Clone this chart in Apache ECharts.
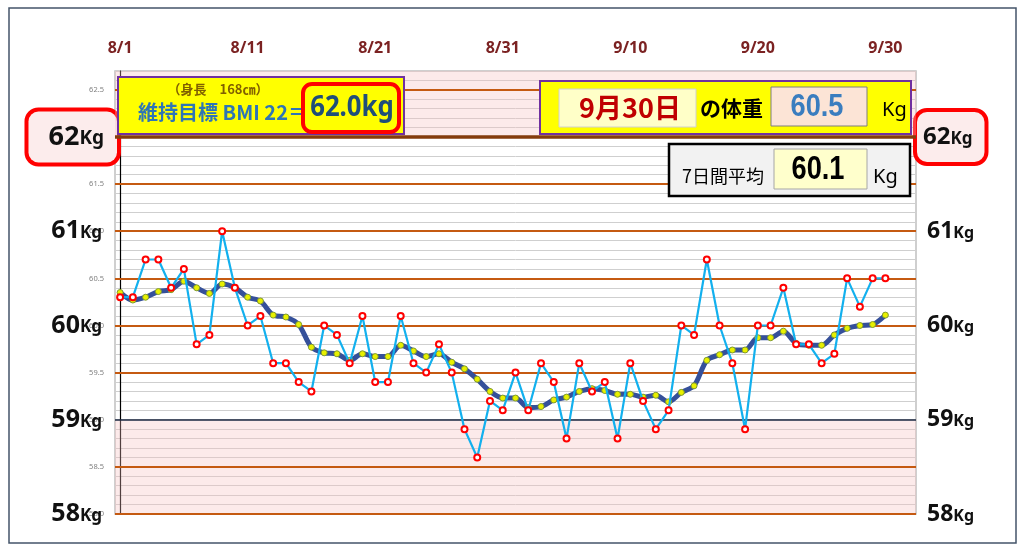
<!DOCTYPE html>
<html>
<head>
<meta charset="UTF-8">
<title>体重グラフ 8/1-9/30</title>
<script src="https://cdn.jsdelivr.net/npm/echarts@6/dist/echarts.min.js"></script>
<style>
  html, body { margin: 0; padding: 0; background: #fff; }
  #main { width: 1024px; height: 550px; }
</style>
</head>
<body>
<div id="main"></div>
<script>
// 毎日の体重 (8/1 - 9/30)
var weights = [
  60.3, 60.3, 60.7, 60.7, 60.4, 60.6, 59.8, 59.9, 61.0, 60.4,
  60.0, 60.1, 59.6, 59.6, 59.4, 59.3, 60.0, 59.9, 59.6, 60.1,
  59.4, 59.4, 60.1, 59.6, 59.5, 59.8, 59.5, 58.9, 58.6, 59.2,
  59.1, 59.5, 59.1, 59.6, 59.4, 58.8, 59.6, 59.3, 59.4, 58.8,
  59.6, 59.2, 58.9, 59.1, 60.0, 59.9, 60.7, 60.0, 59.6, 58.9,
  60.0, 60.0, 60.4, 59.8, 59.8, 59.6, 59.7, 60.5, 60.2, 60.5,
  60.5
];
// 7日間平均
var avg7 = [
  60.35, 60.27, 60.30, 60.36, 60.38, 60.47, 60.40, 60.34, 60.44, 60.40,
  60.30, 60.26, 60.11, 60.09, 60.01, 59.77, 59.71, 59.70, 59.63, 59.70,
  59.67, 59.67, 59.79, 59.73, 59.67, 59.70, 59.61, 59.54, 59.43, 59.30,
  59.23, 59.23, 59.13, 59.14, 59.21, 59.24, 59.30, 59.33, 59.31, 59.27,
  59.27, 59.24, 59.26, 59.19, 59.29, 59.36, 59.63, 59.69, 59.74, 59.74,
  59.87, 59.87, 59.94, 59.81, 59.79, 59.79, 59.90, 59.97, 60.00, 60.01,
  60.11
];
// 日付ラベル
var dates = [];
for (var i = 0; i < 61; i++) dates.push(i < 31 ? '8/' + (i + 1) : '9/' + (i - 30));
var xTicks = [0, 10, 20, 30, 40, 50, 60];   // 8/1, 8/11 ... 9/30
var kgTicks = [58, 59, 60, 61];
var goalTick = [62];
var yMin = 58, yMax = 62.7;
var goalKg = 62, lowKg = 59;

var lastIdx = weights.length - 1;
var latestW = weights[lastIdx].toFixed(1);
var latestAvg = avg7[lastIdx].toFixed(1);
var lastDay = '9月30日';

var dailyData = weights.map(function (v, i) { return [i, v]; });
var avgData = avg7.map(function (v, i) { return [i, v]; });

// オレンジの線 (0.5刻み、59と62は別の線)
var halfLines = [];
for (var k = 0; k * 0.5 + yMin <= yMax; k++) {
  var hv = yMin + k * 0.5;
  if (hv !== goalKg && hv !== lowKg) halfLines.push(hv);
}

var chart = echarts.init(document.getElementById('main'));

function kgRichOf(nSize, kSize) {
  return {
    n: { fontSize: nSize, fontWeight: 'bold', fontFamily: 'Noto Sans', color: '#111' },
    k: { fontSize: kSize, fontWeight: 'bold', fontFamily: 'Noto Sans', color: '#111', padding: [4, 0, 0, 0] }
  };
}
function kgFmt(v) { return '{n|' + v + '}{k|Kg}'; }

function bigAxis(pos, ticks, rich, margin, extra) {
  var lab = { customValues: ticks, margin: margin, formatter: kgFmt, rich: rich };
  for (var key in extra) lab[key] = extra[key];
  return {
    type: 'value', min: yMin, max: yMax, position: pos,
    axisLine: { show: false }, axisTick: { show: false }, splitLine: { show: false },
    axisLabel: lab
  };
}
var boxStyle = {
  backgroundColor: '#fcecec', borderColor: '#ff0000', borderWidth: 4, borderRadius: 10
};

var option = {
  animation: false,
  backgroundColor: '#fff',
  grid: { left: 115, right: 108, top: 71, bottom: 36, show: true,
          backgroundColor: '#fff', borderColor: '#c0c0c0', borderWidth: 1.5 },
  xAxis: {
    type: 'value', min: -0.4, max: 62.4, position: 'top',
    axisLine: { show: false }, axisTick: { show: false }, splitLine: { show: false },
    axisLabel: {
      customValues: xTicks,
      formatter: function (v) { return dates[v]; },
      color: '#7b2222', fontWeight: 'bold', fontSize: 16, fontFamily: 'Noto Sans', margin: 15
    }
  },
  yAxis: [
    {
      type: 'value', min: yMin, max: yMax, interval: 0.1, position: 'left',
      axisLine: { show: true, lineStyle: { color: '#000', width: 1.2 } },
      axisTick: { show: false },
      splitLine: { lineStyle: { color: '#cfcfcf', width: 1 } },
      axisLabel: {
        fontSize: 7.5, color: '#808080', margin: 11, fontFamily: 'Noto Sans',
        formatter: function (v) {
          return Math.abs(v * 2 - Math.round(v * 2)) < 1e-6 ? v.toFixed(1) : '';
        }
      }
    },
    bigAxis('left', kgTicks, kgRichOf(25, 17), 13, {}),
    bigAxis('left', goalTick, kgRichOf(27, 19), -2, Object.assign({ padding: [12, 13, 12, 20] }, boxStyle)),
    bigAxis('right', kgTicks, kgRichOf(23, 16), 11, {}),
    bigAxis('right', goalTick, kgRichOf(24, 17), 1, Object.assign({ padding: [13, 12, 13, 6] }, boxStyle))
  ],
  series: [
    {
      // 背景の帯
      type: 'line', data: avgData, z: 1, silent: true, symbol: 'none',
      lineStyle: { opacity: 0 },
      markArea: {
        silent: true, z: 1,
        itemStyle: { color: 'rgba(247,190,190,0.33)' },
        data: [
          [{ yAxis: goalKg }, { yAxis: yMax }],
          [{ yAxis: yMin }, { yAxis: lowKg }]
        ]
      }
    },
    {
      // 目盛り線
      type: 'line', data: avgData, z: 2, silent: true, symbol: 'none',
      lineStyle: { opacity: 0 },
      markLine: {
        silent: true, z: 2, symbol: ['none', 'none'], label: { show: false },
        data: halfLines.map(function (v) {
          return { yAxis: v, lineStyle: { color: '#c55a11', width: 1.8, type: 'solid' } };
        }).concat([
          { yAxis: lowKg, lineStyle: { color: '#1a2740', width: 1.6, type: 'solid' } },
          { yAxis: goalKg, lineStyle: { color: '#843c0c', width: 3.5, type: 'solid' } }
        ])
      }
    },
    {
      name: '7日間平均', type: 'line', data: avgData, z: 3, smooth: 0.3,
      symbol: 'circle', symbolSize: 6,
      lineStyle: { color: '#35509a', width: 5 },
      itemStyle: { color: '#e8f000', borderColor: '#7f9a30', borderWidth: 1 }
    },
    {
      name: '体重', type: 'line', data: dailyData, z: 4,
      symbol: 'emptyCircle', symbolSize: 6,
      lineStyle: { color: '#12b0ee', width: 2.2 },
      itemStyle: { color: '#ff0000', borderWidth: 1.5 }
    }
  ],
  graphic: [
    { type: 'rect', z: 100, shape: { x: 9, y: 8, width: 1007, height: 535 },
      style: { fill: 'none', stroke: '#44546a', lineWidth: 1.5 } },

    // 目標体重
    { type: 'rect', z: 100, shape: { x: 118, y: 77, width: 286, height: 57 },
      style: { fill: '#ffff00', stroke: '#7030a0', lineWidth: 2 } },
    { type: 'text', z: 101, style: { x: 218, y: 89, text: '（身長　168㎝）',
      font: 'bold 13px "Noto Sans CJK JP"', fill: '#806000', textAlign: 'center', textVerticalAlign: 'middle' } },
    { type: 'text', z: 101, style: { x: 138, y: 112, text: '維持目標 BMI 22＝',
      font: 'bold 20px "Noto Sans CJK JP"', fill: '#2e75b6', textAlign: 'left', textVerticalAlign: 'middle' } },
    { type: 'rect', z: 101, shape: { x: 303, y: 84, width: 96, height: 48, r: 9 },
      style: { fill: '#ffff00', stroke: '#ff0000', lineWidth: 4 } },
    { type: 'group', z: 102, x: 352, y: 108, scaleX: 0.92, children: [
      { type: 'text', z: 102, style: { x: 0, y: 0, text: goalKg.toFixed(1) + 'kg',
        font: 'bold 28px "Noto Sans"', fill: '#1f4e79', textAlign: 'center', textVerticalAlign: 'middle' } }
    ] },

    // 最新の体重
    { type: 'rect', z: 100, shape: { x: 540, y: 81, width: 371, height: 53 },
      style: { fill: '#ffff00', stroke: '#7030a0', lineWidth: 2 } },
    { type: 'rect', z: 101, shape: { x: 559, y: 89, width: 137, height: 38 },
      style: { fill: '#ffffc8', stroke: '#d0d0d0', lineWidth: 1 } },
    { type: 'text', z: 102, style: { x: 630, y: 108, text: lastDay,
      font: 'bold 27px "Noto Sans CJK JP"', fill: '#c00000', textAlign: 'center', textVerticalAlign: 'middle' } },
    { type: 'text', z: 101, style: { x: 700, y: 108, text: 'の体重',
      font: 'bold 21px "Noto Sans CJK JP"', fill: '#000', textAlign: 'left', textVerticalAlign: 'middle' } },
    { type: 'rect', z: 101, shape: { x: 771, y: 87, width: 96, height: 39 },
      style: { fill: '#fce4d6', stroke: '#7f7f7f', lineWidth: 1 } },
    { type: 'group', z: 102, x: 817, y: 107, scaleX: 0.85, children: [
      { type: 'text', z: 102, style: { x: 0, y: 0, text: latestW,
        font: 'bold 32px "Liberation Sans"', fill: '#3a7dbf', textAlign: 'center', textVerticalAlign: 'middle' } }
    ] },
    { type: 'text', z: 101, style: { x: 882, y: 110, text: 'Kg',
      font: '20px "Noto Sans"', fill: '#000', textAlign: 'left', textVerticalAlign: 'middle' } },

    // 7日間平均
    { type: 'rect', z: 100, shape: { x: 669, y: 144, width: 241, height: 52 },
      style: { fill: '#f2f2f2', stroke: '#000', lineWidth: 2.5 } },
    { type: 'text', z: 101, style: { x: 682, y: 176, text: '7日間平均',
      font: '18px "Noto Sans CJK JP"', fill: '#000', textAlign: 'left', textVerticalAlign: 'middle' } },
    { type: 'rect', z: 101, shape: { x: 774, y: 149, width: 93, height: 40 },
      style: { fill: '#ffffcc', stroke: '#a6a6a6', lineWidth: 1 } },
    { type: 'group', z: 102, x: 818, y: 170, scaleX: 0.8, children: [
      { type: 'text', z: 102, style: { x: 0, y: 0, text: latestAvg,
        font: 'bold 34px "Liberation Sans"', fill: '#000', textAlign: 'center', textVerticalAlign: 'middle' } }
    ] },
    { type: 'text', z: 101, style: { x: 873, y: 177, text: 'Kg',
      font: '20px "Noto Sans"', fill: '#000', textAlign: 'left', textVerticalAlign: 'middle' } }
  ]
};

chart.setOption(option);
</script>
</body>
</html>
